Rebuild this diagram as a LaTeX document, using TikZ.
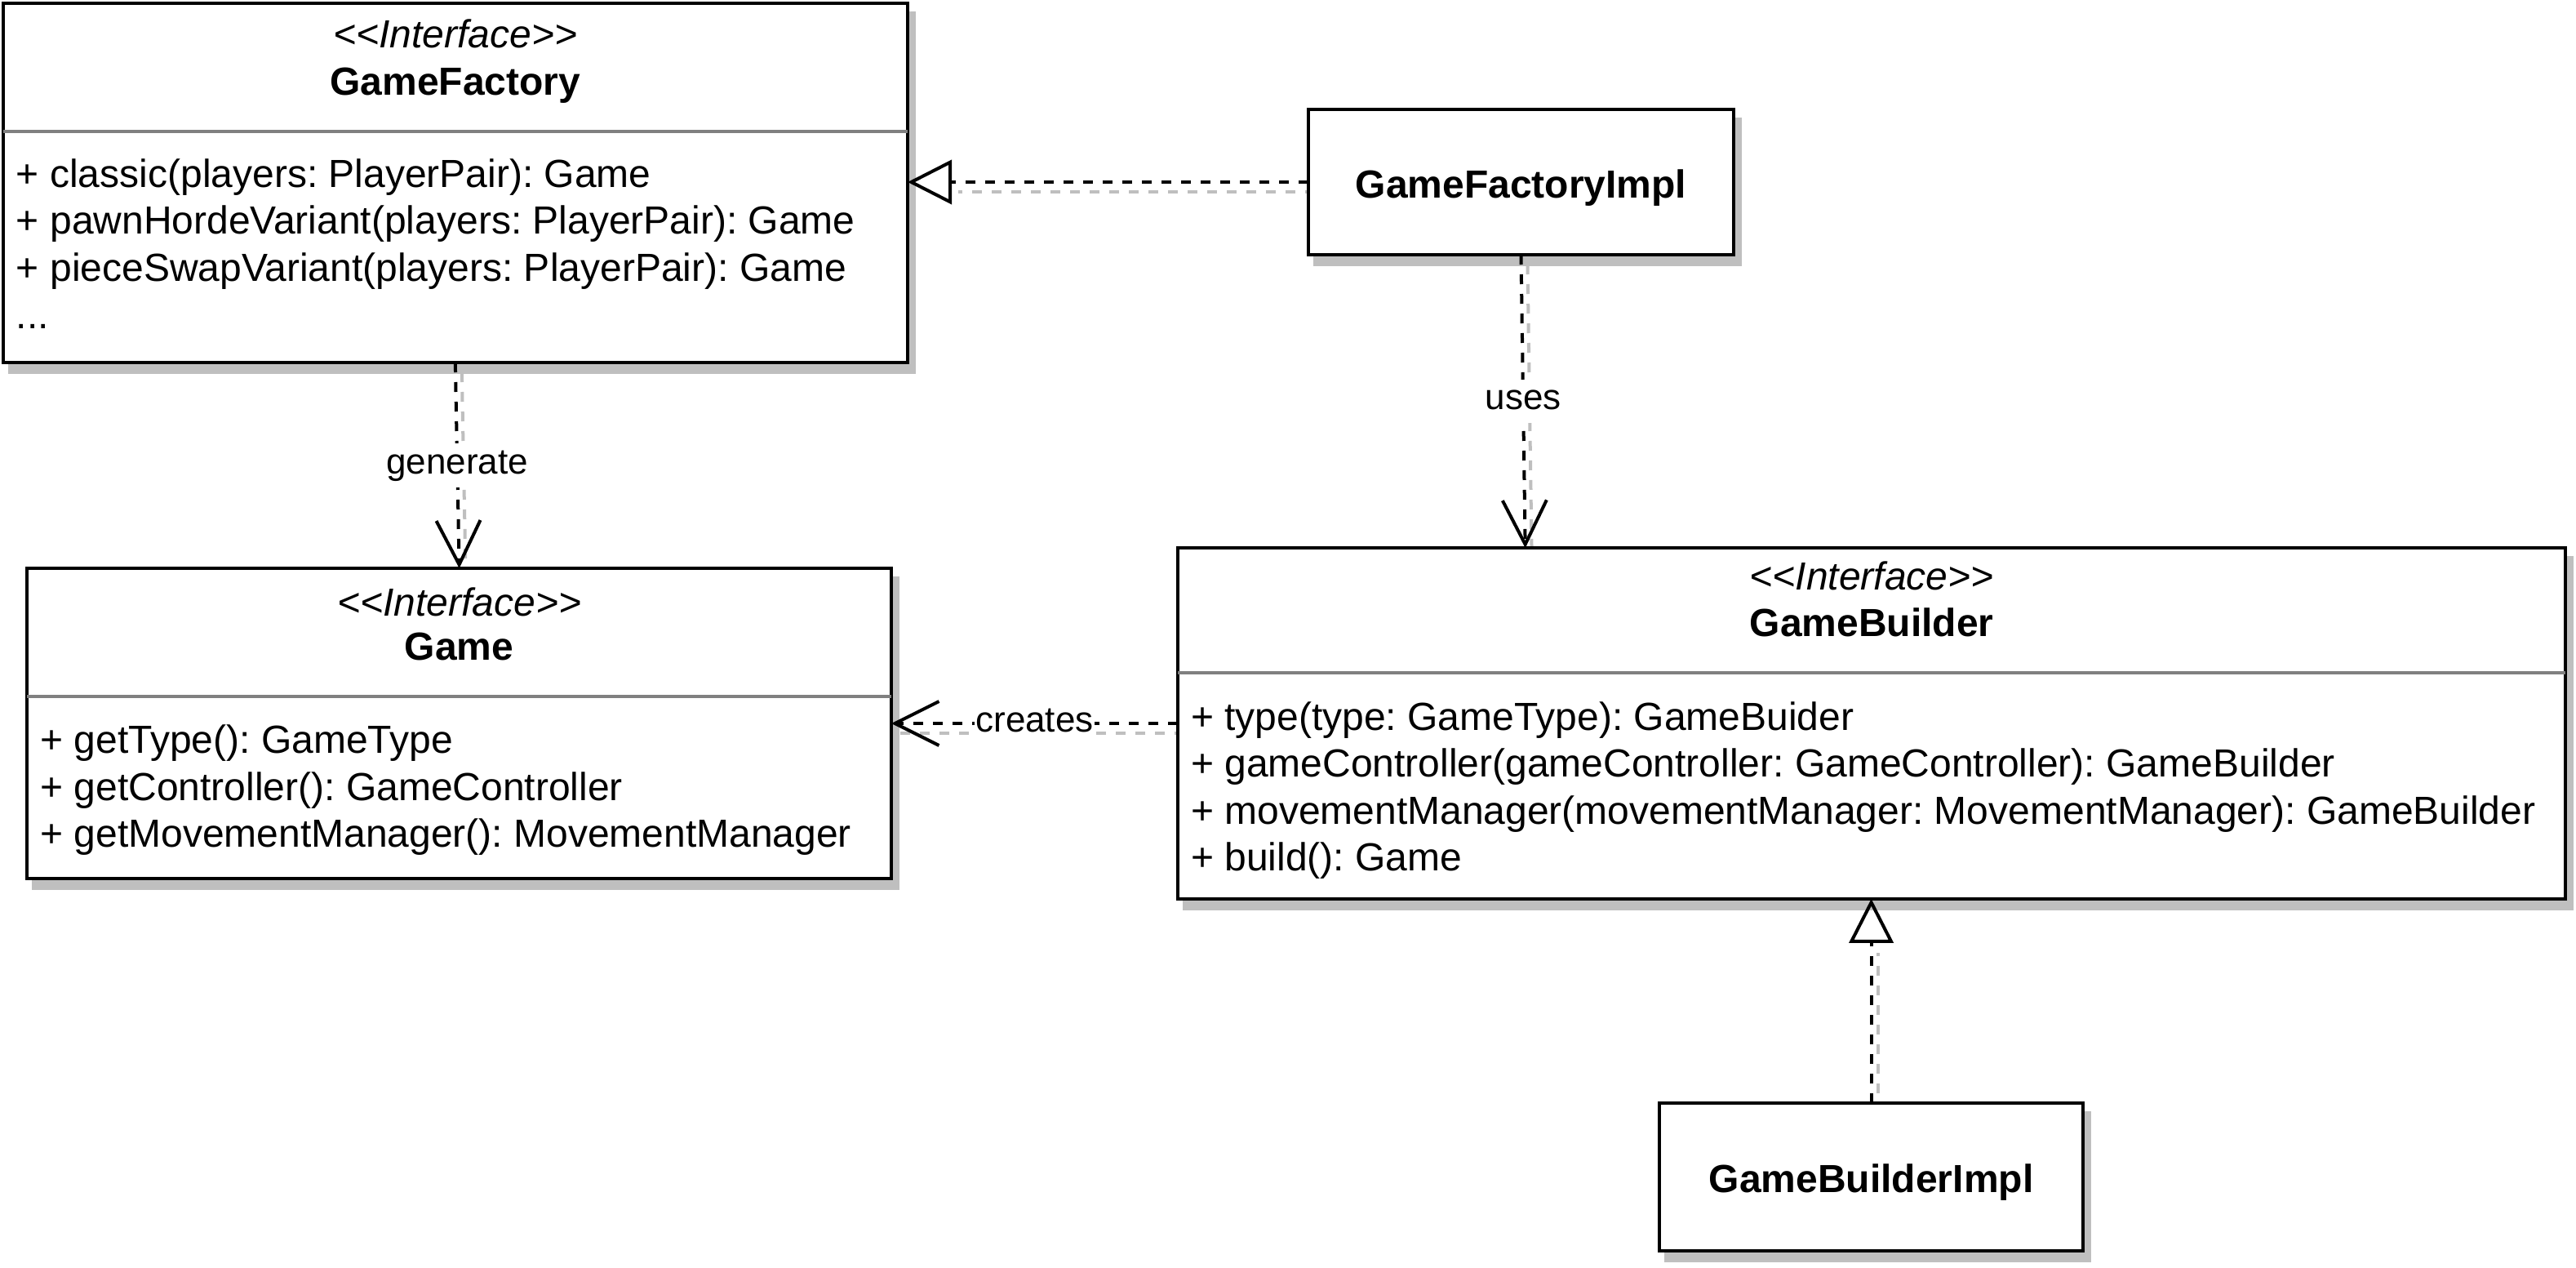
\documentclass[tikz,border=0pt]{standalone}
\usepackage{fontspec}
\setmainfont{Liberation Sans}
\usetikzlibrary{arrows.meta,backgrounds,calc}
\definecolor{shadowgray}{RGB}{191,191,191}
\definecolor{divgray}{RGB}{128,128,128}
\frenchspacing
\tikzset{
  umlbox/.style={rectangle, draw=black, line width=1pt, fill=white, inner sep=0pt, outer sep=0pt},
  divline/.style={draw=divgray, line width=1pt},
  txt/.style={inner sep=0pt, outer sep=0pt, font=\fontsize{12pt}{14.4pt}\selectfont},
  member/.style={txt, anchor=base west},
  stereo/.style={txt, anchor=base, font=\fontsize{12pt}{14.4pt}\selectfont\itshape},
  cname/.style={txt, anchor=base, font=\fontsize{12pt}{14.4pt}\selectfont\bfseries},
  conn/.style={draw=black, line width=1pt, dash pattern=on 3pt off 3pt},
  connshadow/.style={draw=shadowgray, line width=1pt, dash pattern=on 3pt off 3pt},
  realize/.style={conn, -{Triangle[open, length=13.5pt, width=13.5pt]}},
  depend/.style={conn, -{Straight Barb[length=13.5pt, width=13.5pt]}},
  lbl/.style={txt, font=\fontsize{11pt}{13.2pt}\selectfont\frenchspacing, fill=white, inner xsep=0.3pt, inner ysep=0pt, text height=9.2pt, text depth=4.1pt},
}
\begin{document}
\begin{tikzpicture}[x=1pt, y=-1pt]
\useasboundingbox (0,0) rectangle (789,388);

% boxes
\node[umlbox, minimum width=277.1pt, minimum height=110.1pt] (gf) at (139.45,55.95) {};
\node[umlbox, minimum width=130.25pt, minimum height=44.5pt] (gfi) at (465.875,55.75) {};
\node[umlbox, minimum width=264.67pt, minimum height=95pt] (g) at (140.665,221.5) {};
\node[umlbox, minimum width=425.05pt, minimum height=107.4pt] (gb) at (573.275,221.5) {};
\node[umlbox, minimum width=129.7pt, minimum height=45.25pt] (gbi) at (573.15,360.375) {};

% box shadows
\begin{scope}[on background layer]
  \foreach \n in {gf,gfi,g,gb,gbi}{
    \fill[shadowgray] ($(\n.north west)+(1.5,2.5)$) rectangle ($(\n.south east)+(2.5,3.5)$);
  }
\end{scope}

% dividers
\draw[divline] (gf.west |- 0,40.3) -- (gf.east |- 0,40.3);
\draw[divline] (g.west |- 0,213.2) -- (g.east |- 0,213.2);
\draw[divline] (gb.west |- 0,206.1) -- (gb.east |- 0,206.1);

% GameFactory
\node[stereo] (gfs) at (139.45,14.7) {<\kern0pt<Interface>\kern0pt>};
\node[cname] (gfn) at (139.45,29.2) {GameFactory};
\node[member] (gfm1) at (5,57.3) {+ classic(players: PlayerPair): Game};
\node[member] (gfm2) at (5,71.7) {+ pawnHordeVariant(players: PlayerPair): Game};
\node[member] (gfm3) at (5,86.1) {+ pieceSwapVariant(players: PlayerPair): Game};
\node[member] (gfm4) at (5,100.5) {...};

% GameFactoryImpl
\node[cname] (gfin) at (465.875,60.5) {GameFactoryImpl};

% Game
\node[stereo] (gs) at (140.665,188.5) {<\kern0pt<Interface>\kern0pt>};
\node[cname] (gn) at (140.665,202.2) {Game};
\node[member] (gm1) at (12.33,230.6) {+ getType(): GameType};
\node[member] (gm2) at (12.33,245.0) {+ getController(): GameController};
\node[member] (gm3) at (12.33,259.4) {+ getMovementManager(): MovementManager};

% GameBuilder
\node[stereo] (gbs) at (573.275,180.7) {<\kern0pt<Interface>\kern0pt>};
\node[cname] (gbn) at (573.275,194.8) {GameBuilder};
\node[member] (gbm1) at (364.75,223.5) {+ type(type: GameType): GameBuider};
\node[member] (gbm2) at (364.75,237.9) {+ gameController(gameController: GameController): GameBuilder};
\node[member] (gbm3) at (364.75,252.3) {+ movementManager(movementManager: MovementManager): GameBuilder};
\node[member] (gbm4) at (364.75,266.7) {+ build(): Game};

% GameBuilderImpl
\node[cname] (gbin) at (573.15,365) {GameBuilderImpl};

% connector end points
\coordinate (gfiEnd) at (gfi.west -| gf.east);
\coordinate (usesEnd) at ($(gfi.south |- gb.north)+(1.3,0)$);
\coordinate (createsEnd) at (gb.west -| g.east);
\coordinate (gbiEnd) at (gbi.north |- gb.south);

% connector shadows
\begin{scope}[on background layer]
  \draw[connshadow] ($(gfi.west)+(2,3)$) -- ($(gfiEnd)+(15.5,3)$);
  \draw[connshadow] ($(gf.south)+(2,3)$) -- ($(g.north)+(2,3)$);
  \draw[connshadow] ($(gfi.south)+(2,3)$) -- ($(usesEnd)+(2,3)$);
  \draw[connshadow] ($(gb.west)+(2,3)$) -- ($(createsEnd)+(2,3)$);
  \draw[connshadow] ($(gbi.north)+(2,3)$) -- ($(gbiEnd)+(2,16.5)$);
\end{scope}

% connectors
\draw[realize] (gfi.west) -- (gfiEnd);
\draw[depend] (gf.south) -- node[lbl] (lgen) {generate} (g.north);
\draw[depend] (gfi.south) -- node[lbl] (luses) {uses} (usesEnd);
\draw[depend] (gb.west) -- node[lbl] (lcreates) {creates} (createsEnd);
\draw[realize] (gbi.north) -- (gbiEnd);
\end{tikzpicture}
\end{document}
